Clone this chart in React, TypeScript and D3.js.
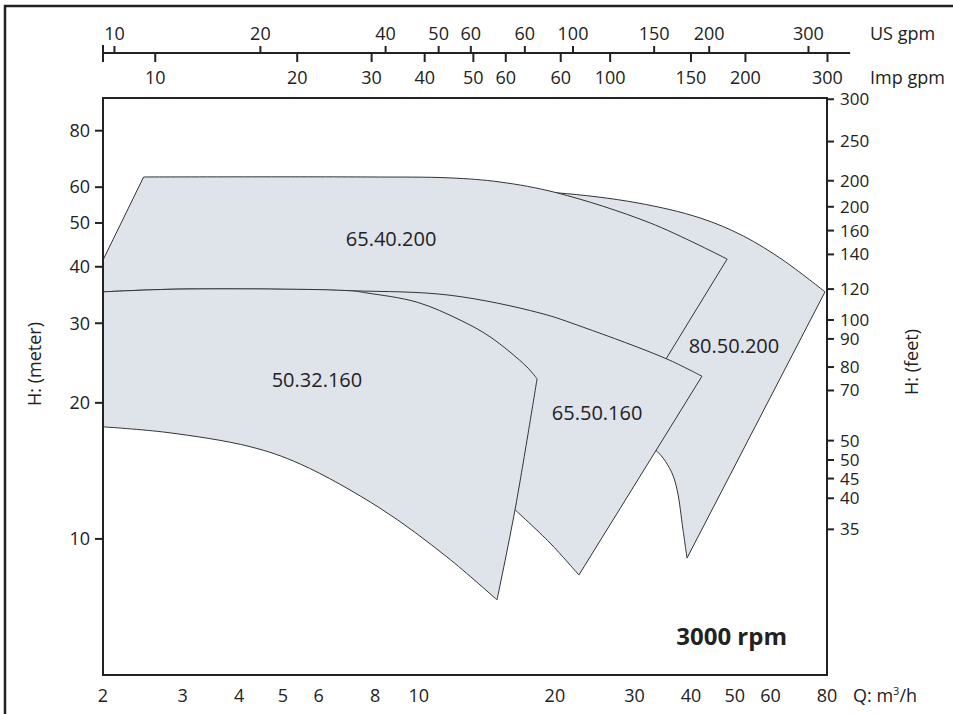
import React, { useEffect, useRef } from 'react';
import * as d3 from 'd3';

type Pt = [number, number];

// Flow Q (m3/h) and head H (m) tick values
const qTicks = [2, 3, 4, 5, 6, 8, 10, 20, 30, 40, 50, 60, 80];
const hTicks = [10, 20, 30, 40, 50, 60, 80];

// Right axis (feet) labels as printed, with their position in metres
const feetLabels = ['300', '250', '200', '200', '160', '140', '120', '100', '90', '80', '70', '50', '50', '45', '40', '35'];
const feetAt = [93.9, 75.7, 62.0, 54.3, 48.1, 42.6, 35.7, 30.5, 27.7, 24.0, 21.3, 16.5, 14.95, 13.6, 12.3, 10.5];

// Top axes (gpm) labels as printed, with their position in m3/h
const usGpmLabels = ['10', '20', '40', '50', '60', '60', '100', '150', '200', '300'];
const usGpmAt = [2.12, 4.46, 8.44, 11.06, 13.03, 17.16, 21.93, 33.16, 43.9, 72.8];
const impGpmLabels = ['10', '20', '30', '40', '50', '60', '60', '100', '150', '200', '300'];
const impGpmAt = [2.61, 5.38, 7.86, 10.3, 13.2, 15.57, 20.6, 26.5, 40.0, 52.8, 80.2];

// Pump ranges [Q, H]: top = largest impeller, bottom = smallest impeller
const top80_50_200: Pt[] = [[10, 58], [15, 58.8], [20.2, 58.3], [30.4, 55.4], [41.9, 51.3], [52.2, 46.8], [63.9, 41.4], [79.2, 35.2]];
const bottom80_50_200: Pt[] = [[39.2, 9.07], [38.4, 10.5], [37.3, 12.8], [36.3, 14.0], [34.7, 15.1], [33.7, 15.6]];
const hidden80_50_200: Pt[] = [[33.7, 15.6], [25, 20], [16, 30], [10, 40], [10, 58]];

const top65_40_200: Pt[] = [[2.46, 63.2], [7.68, 63.2], [11.72, 62.9], [15.12, 61.6], [20.2, 58.3], [32.5, 50], [48.1, 41.6]];
const hidden65_40_200: Pt[] = [[34.7, 24.4], [23, 28], [16, 31], [10, 33.5], [2, 34], [2, 41.4]];

const top65_50_160: Pt[] = [[2, 35.2], [2.96, 35.7], [7.04, 35.4], [11.72, 34.6], [18.54, 31.6], [23.1, 29.4], [35.4, 25.0], [42.3, 22.9]];
const bottom65_50_160: Pt[] = [[22.6, 8.32], [19.5, 9.8], [16.32, 11.6]];
const hidden65_50_160: Pt[] = [[16.32, 11.6], [12, 15], [6, 22], [2, 26], [2, 35.2]];

const top50_32_160: Pt[] = [[2, 35.2], [2.96, 35.7], [7.04, 35.4], [7.68, 35.0], [9.91, 33.4], [12.33, 30.5], [14.37, 28.0], [17.35, 24.0], [18.26, 22.6]];
const side50_32_160: Pt[] = [[18.26, 22.6], [16.32, 11.6], [14.89, 7.33]];
const bottom50_32_160: Pt[] = [[14.89, 7.33], [11.54, 9.12], [8.2, 11.7], [5.46, 14.65], [4.23, 16.0], [2.77, 17.2], [2, 17.7]];

const pumpNames = ['65.40.200', '50.32.160', '65.50.160', '80.50.200'];
const pumpLabelAt: Pt[] = [[8.68, 46.0], [5.95, 22.5], [24.8, 19.0], [49.8, 26.7]];

const FONT = '"Open Sans", sans-serif';

function PumpChart() {
  const svgRef = useRef<SVGSVGElement>(null);
  const width = 953;
  const height = 714;

  useEffect(() => {
    if (!svgRef.current) return;
    const svg = d3.select(svgRef.current);
    svg.selectAll('*').remove();

    const plot = { left: 103, right: 827, top: 98, bottom: 675 };

    const x = d3.scaleLog().domain([2, 80]).range([plot.left, plot.right]);
    const y = d3.scaleLog().domain([5, 94.5]).range([plot.bottom, plot.top]);

    const smooth = d3.line<Pt>().x(d => x(d[0])).y(d => y(d[1])).curve(d3.curveCatmullRom.alpha(0.5));
    const straight = d3.line<Pt>().x(d => x(d[0])).y(d => y(d[1]));

    // join segments into one closed outline
    const outline = (segs: { pts: Pt[]; curved: boolean }[]) =>
      segs.map((s, i) => {
        const p = (s.curved ? smooth(s.pts) : straight(s.pts)) || '';
        return i === 0 ? p : 'L' + p.slice(1);
      }).join('') + 'Z';

    // outer frame
    svg.append('rect')
      .attr('x', 5).attr('y', 6)
      .attr('width', 960).attr('height', 720)
      .attr('fill', 'none').attr('stroke', '#222').attr('stroke-width', 2.5);

    // pump areas, back to front
    const areas = [
      outline([
        { pts: top80_50_200, curved: true },
        { pts: [top80_50_200[top80_50_200.length - 1], bottom80_50_200[0]], curved: false },
        { pts: bottom80_50_200, curved: true },
        { pts: hidden80_50_200, curved: false },
      ]),
      outline([
        { pts: top65_40_200, curved: true },
        { pts: [top65_40_200[top65_40_200.length - 1], hidden65_40_200[0]], curved: false },
        { pts: hidden65_40_200, curved: false },
      ]),
      outline([
        { pts: top65_50_160, curved: true },
        { pts: [top65_50_160[top65_50_160.length - 1], bottom65_50_160[0]], curved: false },
        { pts: bottom65_50_160, curved: true },
        { pts: hidden65_50_160, curved: false },
      ]),
      outline([
        { pts: top50_32_160, curved: true },
        { pts: side50_32_160, curved: true },
        { pts: bottom50_32_160, curved: true },
        { pts: [bottom50_32_160[bottom50_32_160.length - 1], top50_32_160[0]], curved: false },
      ]),
    ];

    svg.append('g')
      .selectAll('path')
      .data(areas)
      .enter().append('path')
      .attr('d', d => d)
      .attr('fill', '#dfe3ea')
      .attr('stroke', '#333')
      .attr('stroke-width', 1)
      .attr('stroke-linejoin', 'miter');

    // pump names
    svg.append('g')
      .selectAll('text')
      .data(pumpNames)
      .enter().append('text')
      .attr('x', (_, i) => x(pumpLabelAt[i][0]))
      .attr('y', (_, i) => y(pumpLabelAt[i][1]))
      .attr('dy', '0.35em')
      .attr('text-anchor', 'middle')
      .style('font-family', FONT)
      .style('font-size', '20px')
      .style('fill', '#222')
      .text(d => d);

    // plot frame
    svg.append('rect')
      .attr('x', plot.left).attr('y', plot.top)
      .attr('width', plot.right - plot.left).attr('height', plot.bottom - plot.top)
      .attr('fill', 'none').attr('stroke', '#222').attr('stroke-width', 2);

    const txt = (g: d3.Selection<SVGGElement, unknown, null, undefined>) =>
      g.style('font-family', FONT).style('font-size', '18px').style('fill', '#222');

    // left axis (metres)
    const leftAx = svg.append('g').call(txt);
    leftAx.selectAll('line').data(hTicks).enter().append('line')
      .attr('x1', plot.left - 8).attr('x2', plot.left)
      .attr('y1', d => y(d)).attr('y2', d => y(d))
      .attr('stroke', '#222').attr('stroke-width', 2);
    leftAx.selectAll('text').data(hTicks).enter().append('text')
      .attr('x', plot.left - 13).attr('y', d => y(d)).attr('dy', '0.35em')
      .attr('text-anchor', 'end')
      .text(d => d);

    // right axis (feet), printed tightly as in the original
    const rightAx = svg.append('g').call(txt).style('font-size', '17px');
    rightAx.selectAll('line').data(feetAt).enter().append('line')
      .attr('x1', plot.right).attr('x2', plot.right + 7)
      .attr('y1', d => y(d)).attr('y2', d => y(d))
      .attr('stroke', '#222').attr('stroke-width', 2);
    rightAx.selectAll('text').data(feetLabels).enter().append('text')
      .attr('x', plot.right + 13).attr('y', (_, i) => y(feetAt[i])).attr('dy', '0.35em')
      .text(d => d);

    // bottom axis (m3/h)
    const bottomAx = svg.append('g').call(txt);
    bottomAx.selectAll('text').data(qTicks).enter().append('text')
      .attr('x', d => x(d)).attr('y', 702)
      .attr('text-anchor', 'middle')
      .text(d => d);
    const qLabel = bottomAx.append('text').attr('x', 853).attr('y', 702);
    qLabel.append('tspan').text('Q: m');
    qLabel.append('tspan').attr('dy', -7).style('font-size', '11px').text('3');
    qLabel.append('tspan').attr('dy', 7).text('/h');

    // top axes (gpm)
    const topY = 53;
    const topAx = svg.append('g').call(txt);
    topAx.append('line')
      .attr('x1', x(2)).attr('x2', x(90))
      .attr('y1', topY).attr('y2', topY)
      .attr('stroke', '#222').attr('stroke-width', 2);
    topAx.append('line')
      .attr('x1', x(2)).attr('x2', x(2))
      .attr('y1', topY - 8).attr('y2', topY + 9)
      .attr('stroke', '#222').attr('stroke-width', 2);
    topAx.selectAll('.us').data(usGpmAt).enter().append('line')
      .attr('class', 'us')
      .attr('x1', d => x(d)).attr('x2', d => x(d))
      .attr('y1', topY - 7).attr('y2', topY)
      .attr('stroke', '#222').attr('stroke-width', 2);
    topAx.selectAll('.uslab').data(usGpmLabels).enter().append('text')
      .attr('class', 'uslab')
      .attr('x', (_, i) => x(usGpmAt[i])).attr('y', 40)
      .attr('text-anchor', 'middle')
      .text(d => d);
    topAx.selectAll('.imp').data(impGpmAt).enter().append('line')
      .attr('class', 'imp')
      .attr('x1', d => x(d)).attr('x2', d => x(d))
      .attr('y1', topY).attr('y2', topY + 9)
      .attr('stroke', '#222').attr('stroke-width', 2);
    topAx.selectAll('.implab').data(impGpmLabels).enter().append('text')
      .attr('class', 'implab')
      .attr('x', (_, i) => x(impGpmAt[i])).attr('y', 84)
      .attr('text-anchor', 'middle')
      .text(d => d);
    topAx.append('text').attr('x', 870).attr('y', 40).text('US gpm');
    topAx.append('text').attr('x', 870).attr('y', 84).text('Imp gpm');

    // axis titles
    svg.append('text')
      .attr('transform', 'translate(35,364) rotate(-90)')
      .attr('dy', '0.35em')
      .attr('text-anchor', 'middle')
      .style('font-family', FONT).style('font-size', '18px').style('fill', '#222')
      .text('H: (meter)');
    svg.append('text')
      .attr('transform', 'translate(912,362) rotate(-90)')
      .attr('dy', '0.35em')
      .attr('text-anchor', 'middle')
      .style('font-family', FONT).style('font-size', '18px').style('fill', '#222')
      .text('H: (feet)');

    // speed note
    svg.append('text')
      .attr('x', 787).attr('y', 645)
      .attr('text-anchor', 'end')
      .style('font-family', FONT).style('font-size', '24px').style('font-weight', 'bold').style('fill', '#222')
      .text('3000 rpm');
  }, []);

  return (
    <div style={{ position: 'absolute', left: 0, top: 0 }}>
      <svg ref={svgRef} width={width} height={height} style={{ display: 'block', background: '#fff' }}></svg>
    </div>
  );
}

export default function App() {
  return <PumpChart />;
}
